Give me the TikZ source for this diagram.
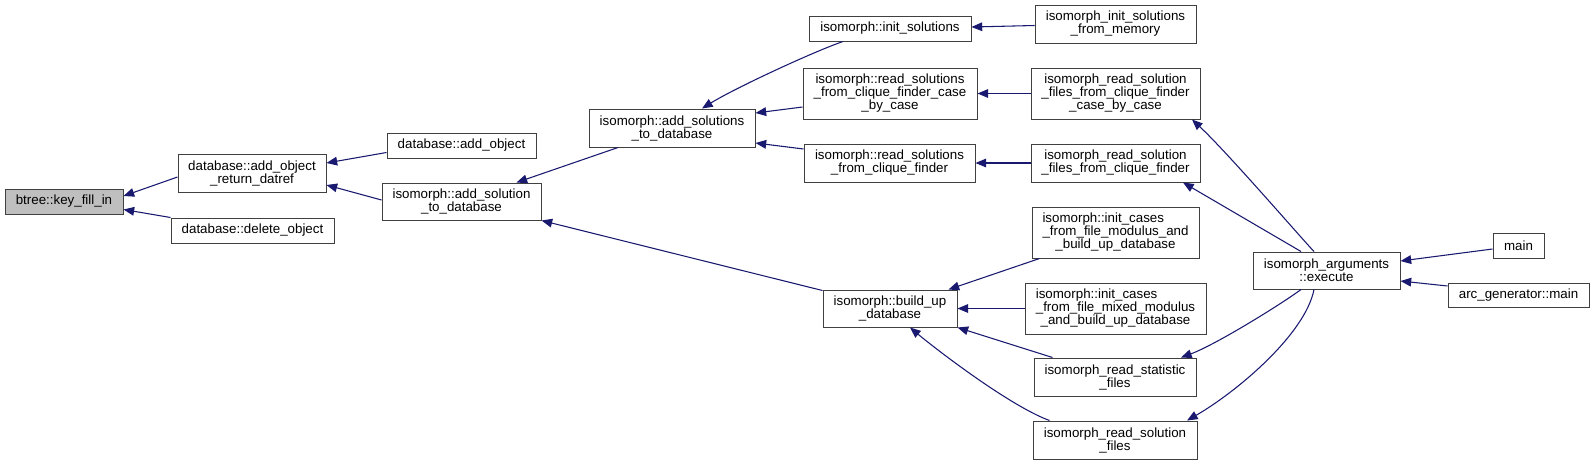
\documentclass[tikz,border=0pt]{standalone}
\usepackage{fontspec}
\setmainfont{Liberation Sans}
\usetikzlibrary{arrows.meta,calc}
\definecolor{edgeblue}{HTML}{191970}
\begin{document}
\begin{tikzpicture}[x=0.75pt,y=-0.75pt,
  box/.style={draw=black!75, line width=0.75pt, fill=white, inner sep=0pt,
    align=center, font=\fontsize{10}{9.75}\selectfont},
  sz/.style 2 args={minimum width=#1*0.75pt, minimum height=#2*0.75pt},
  edge/.style={draw=edgeblue, line width=0.8pt, -{Triangle[length=8pt,width=6.5pt]}}]
\useasboundingbox (0,0) rectangle (1594,465);
% nodes
\node[box, fill=black!25, sz={118}{25}] (bt) at (64,201.5) {btree::key\_fill\_in};
\node[box, sz={148}{38}] (dr) at (252,173) {database::add\_object\\\_return\_datref};
\node[box, sz={163}{25}] (del) at (252.5,230.5) {database::delete\_object};
\node[box, sz={149}{25}] (ao) at (461.5,145.5) {database::add\_object};
\node[box, sz={159}{37}] (as) at (461.5,201.5) {isomorph::add\_solution\\\_to\_database};
\node[box, sz={166}{38}] (ass) at (672,128) {isomorph::add\_solutions\\\_to\_database};
\node[box, sz={162}{25}] (is) at (890,28.5) {isomorph::init\_solutions};
\node[box, sz={174}{51}] (rcc) at (890,93.5) {isomorph::read\_solutions\\\_from\_clique\_finder\_case\\\_by\_case};
\node[box, sz={171}{38}] (rc) at (889.5,163) {isomorph::read\_solutions\\\_from\_clique\_finder};
\node[box, sz={134}{37}] (bu) at (890,308.5) {isomorph::build\_up\\\_database};
\node[box, sz={161}{38}] (ism) at (1115.5,24) {isomorph\_init\_solutions\\\_from\_memory};
\node[box, sz={169}{51}] (rfcc) at (1115.5,93.5) {isomorph\_read\_solution\\\_files\_from\_clique\_finder\\\_case\_by\_case};
\node[box, sz={169}{38}] (rfc) at (1115.5,163) {isomorph\_read\_solution\\\_files\_from\_clique\_finder};
\node[box, sz={167}{51}] (icm) at (1115.5,232.5) {\rlap{isomorph::init\_cases}\hphantom{\_from\_file\_modulus\_and}\\\_from\_file\_modulus\_and\\\_build\_up\_database};
\node[box, sz={181}{51}] (icx) at (1115.5,308.5) {\rlap{isomorph::init\_cases}\hphantom{\_from\_file\_mixed\_modulus}\\\_from\_file\_mixed\_modulus\\\_and\_build\_up\_database};
\node[box, sz={162}{38}] (rsf) at (1115,377) {isomorph\_read\_statistic\\\_files};
\node[box, sz={164}{38}] (rsol) at (1115,440) {isomorph\_read\_solution\\\_files};
\node[box, sz={147}{37}] (ex) at (1326.5,270.5) {isomorph\_arguments\\::execute};
\node[box, sz={51}{25}] (mn) at (1518.5,245.5) {main};
\node[box, sz={141}{24}] (ag) at (1518.5,295) {arc\_generator::main};
% edges
\draw[edge] ($(dr.west)+(0,4)$) -- ($(bt.east)+(0,-5.5)$);
\draw[edge] (del.north west) -- ($(bt.east)+(0,8)$);
\draw[edge] ($(ao.west)+(0,7)$) -- ($(dr.east)+(0,-10)$);
\draw[edge] ($(as.west)+(0,-1.5)$) -- ($(dr.east)+(0,12)$);
\draw[edge] ($(ass.south)+(-54,0)$) -- ($(as.north)+(55,0)$);
\draw[edge] ($(bu.north west)+(0,1)$) -- (as.south east);
\draw[edge] ($(is.south)+(-47,0)$) .. controls (815,51) and (735,88) .. ($(ass.north)+(30,0)$);
\draw[edge] ($(rcc.west)+(0,13.5)$) -- ($(ass.east)+(0,-15)$);
\draw[edge] ($(rc.west)+(0,-14)$) -- ($(ass.east)+(0,15)$);
\draw[edge] ($(ism.west)+(0,1.5)$) -- ($(is.east)+(0,-1.5)$);
\draw[edge] (rfcc.west) -- (rcc.east);
\draw[edge] (rfc.west) -- (rc.east);
\draw[edge] ($(icm.south west)+(8,0)$) -- ($(bu.north east)+(-9,0)$);
\draw[edge] (icx.west) -- (bu.east);
\draw[edge] ($(rsf.north west)+(19,0)$) -- (bu.south east);
\draw[edge] ($(rsol.north west)+(17,0)$) .. controls (1010,406) and (937,350) .. ($(bu.south)+(20,0)$);
\draw[edge] ($(ex.north)+(-12.5,0)$) .. controls (1302,239) and (1227,152) .. ($(rfcc.south)+(76.5,0)$);
\draw[edge] ($(ex.north)+(-25.5,0)$) -- ($(rfc.south)+(67.5,0)$);
\draw[edge] ($(ex.south)+(-25.5,0)$) .. controls (1280,305) and (1215,345) .. ($(rsf.north)+(66,0)$);
\draw[edge] ($(ex.south)+(-12.5,0)$) .. controls (1305,335) and (1235,393) .. ($(rsol.north)+(72,0)$);
\draw[edge] ($(mn.west)+(0,3.5)$) -- ($(ex.east)+(0,-9.5)$);
\draw[edge] ($(ag.west)+(0,-9)$) -- ($(ex.east)+(0,10.5)$);
\end{tikzpicture}
\end{document}
